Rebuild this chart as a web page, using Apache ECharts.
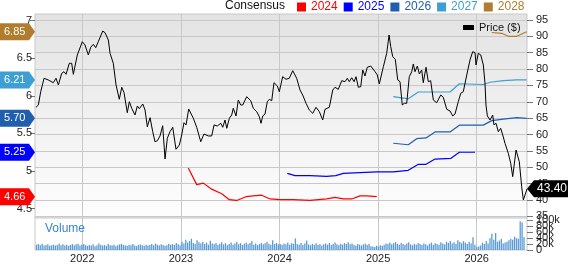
<!DOCTYPE html>
<html><head><meta charset="utf-8">
<script src="https://cdn.jsdelivr.net/npm/echarts@6/dist/echarts.min.js"></script>
<style>html,body{margin:0;padding:0;background:#fff}#c{width:568px;height:264px}</style>
</head><body><div id="c"></div>
<script>
// ---- tick labels ----
const yearTicks = [2022, 2023, 2024, 2025, 2026];
const priceTicks = [35, 40, 45, 50, 55, 60, 65, 70, 75, 80, 85, 90, 95];
const epsTicks = [4.5, 5, 5.5, 6, 6.5, 7];
const volumeTicks = [0, 20000, 40000, 60000, 80000, 100000];

// ---- price (decimal year, $) ----
const priceDates = [2021.530,2021.554,2021.578,2021.594,2021.612,2021.655,2021.706,2021.733,2021.757,2021.791,
2021.814,2021.835,2021.868,2021.892,2021.909,2021.926,2021.949,2022.000,2022.027,2022.061,
2022.085,2022.112,2022.136,2022.162,2022.180,2022.207,2022.230,2022.264,2022.281,2022.314,
2022.342,2022.375,2022.400,2022.423,2022.456,2022.477,2022.501,2022.534,2022.558,2022.578,
2022.613,2022.636,2022.659,2022.687,2022.714,2022.737,2022.761,2022.788,2022.815,2022.839,
2022.862,2022.889,2022.917,2022.950,2022.984,2023.008,2023.031,2023.052,2023.079,2023.126,
2023.160,2023.201,2023.234,2023.278,2023.312,2023.336,2023.369,2023.404,2023.424,2023.447,
2023.465,2023.491,2023.515,2023.531,2023.559,2023.582,2023.606,2023.627,2023.667,2023.708,
2023.734,2023.769,2023.795,2023.812,2023.830,2023.853,2023.876,2023.897,2023.921,2023.944,
2023.978,2023.998,2024.032,2024.066,2024.099,2024.134,2024.174,2024.208,2024.235,2024.269,
2024.302,2024.337,2024.370,2024.404,2024.438,2024.461,2024.505,2024.540,2024.563,2024.596,
2024.631,2024.664,2024.688,2024.708,2024.732,2024.756,2024.776,2024.799,2024.824,2024.844,
2024.867,2024.890,2024.925,2024.969,2024.992,2025.012,2025.053,2025.087,2025.111,2025.128,
2025.148,2025.174,2025.199,2025.222,2025.245,2025.266,2025.290,2025.316,2025.341,2025.357,
2025.374,2025.398,2025.418,2025.442,2025.458,2025.486,2025.509,2025.533,2025.560,2025.594,
2025.635,2025.661,2025.696,2025.729,2025.757,2025.780,2025.813,2025.838,2025.864,2025.899,
2025.932,2025.959,2025.983,2025.993,2026.016,2026.041,2026.067,2026.084,2026.094,2026.108,
2026.135,2026.162,2026.175,2026.196,2026.219,2026.243,2026.264,2026.287,2026.320,2026.345,
2026.365,2026.399,2026.432,2026.456,2026.473,2026.510];
const priceValues = [68.32,69.03,73.09,73.40,77.19,76.67,75.84,77.19,75.14,78.71,
79.20,78.41,81.77,81.77,78.41,78.71,84.31,88.37,87.36,84.31,
86.66,87.57,86.54,88.37,88.06,91.64,91.12,88.89,84.82,81.77,
75.14,70.77,74.44,72.79,66.67,70.04,68.02,65.97,68.72,67.90,
69.33,67.50,62.40,65.15,60.87,57.81,58.12,59.56,62.70,52.53,
58.85,60.87,62.21,55.49,56.81,59.86,63.62,62.92,67.81,64.96,
62.21,57.81,60.17,59.56,59.56,62.92,62.61,63.44,62.21,64.44,
61.91,64.96,65.97,68.02,65.67,70.56,69.03,69.03,71.56,70.34,
68.02,66.98,65.45,63.44,65.67,66.28,70.04,70.77,70.34,75.84,
74.83,73.09,77.67,76.88,77.19,79.51,77.19,73.61,72.08,69.55,
67.50,66.49,68.32,66.98,64.44,67.71,68.32,73.61,74.44,73.82,
76.45,76.15,77.19,76.15,77.37,76.15,77.67,74.44,74.62,79.72,
77.89,80.55,80.94,79.20,78.19,75.44,80.73,84.82,90.42,86.84,
83.79,82.99,76.67,76.15,69.03,69.55,69.55,77.67,79.20,81.56,
79.20,80.94,78.50,79.72,75.84,80.55,76.15,76.45,70.56,69.73,
72.08,71.38,67.71,67.19,65.67,66.28,70.04,72.60,73.09,78.19,
82.78,85.31,85.01,81.25,84.82,84.31,81.25,75.66,69.03,65.67,
64.44,65.97,62.92,63.44,60.87,61.91,59.86,57.32,54.27,51.21,
47.12,55.28,51.70,44.06,40.00,43.40];

// ---- consensus EPS by fiscal year ----
const eps2024Dates = [2023.075,2023.160,2023.227,2023.312,2023.414,2023.491,2023.566,2023.660,2023.734,2023.819,2023.904,2024.005,2024.140,2024.309,2024.479,2024.563,2024.647,2024.732,2024.816,2024.884,2024.986];
const eps2024 = [5.04,4.82,4.84,4.76,4.70,4.62,4.61,4.66,4.67,4.68,4.63,4.62,4.62,4.61,4.63,4.65,4.63,4.63,4.67,4.67,4.66];
const eps2025Dates = [2024.079,2024.157,2024.309,2024.479,2024.570,2024.647,2024.816,2024.986,2025.154,2025.306,2025.408,2025.486,2025.577,2025.739,2025.824,2025.983];
const eps2025 = [4.97,4.94,4.94,4.93,4.94,4.97,4.98,4.99,4.99,5.01,5.09,5.09,5.16,5.17,5.25,5.25];
const eps2026Dates = [2025.154,2025.306,2025.391,2025.486,2025.577,2025.729,2025.824,2026.067,2026.152,2026.270,2026.406,2026.507];
const eps2026 = [5.37,5.35,5.43,5.44,5.52,5.52,5.61,5.61,5.67,5.69,5.71,5.70];
const eps2027Dates = [2025.154,2025.306,2025.408,2025.729,2025.824,2026.067,2026.135,2026.270,2026.406,2026.507];
const eps2027 = [5.99,5.96,6.05,6.05,6.16,6.15,6.18,6.20,6.21,6.21];
const eps2028Dates = [2026.152,2026.253,2026.320,2026.406,2026.507];
const eps2028 = [6.84,6.83,6.79,6.79,6.85];

// ---- weekly volume (thousands) ----
const volumeStart = 2021.535;
const volumeK = [18,20,16,21,15,17,19,14,16,18,15,17,22,16,19,15,18,14,17,20,16,19,21,15,18,
20,16,14,17,15,19,13,16,22,18,15,17,14,20,16,15,18,13,16,19,21,17,15,14,18,16,20,15,13,17,19,16,14,18,15,17,20,16,22,18,15,19,17,14,16,21,18,20,17,24,19,16,
28,22,35,25,30,38,24,20,33,26,22,28,20,25,18,31,22,19,24,17,21,26,19,23,16,20,25,18,22,27,19,23,17,21,25,19,24,30,18,22,17,20,24,19,23,28,21,18,33,20,24,19,
20,17,22,19,25,18,23,21,39,20,18,24,17,22,32,19,16,21,18,23,17,20,15,19,22,18,24,17,20,25,19,16,21,18,23,20,26,19,22,17,14,20,18,15,19,22,17,21,13,12,10,14,
12,16,14,18,22,20,25,19,23,27,21,18,24,20,17,22,26,19,16,21,18,24,20,17,22,19,15,21,25,18,23,20,17,26,22,19,28,24,30,22,26,20,33,27,23,30,25,20,28,22,43,18,
10,12,15,25,20,30,22,40,55,35,57,28,32,38,22,25,28,33,38,35,45,40,38,97,93,43];

const seriesNames = ['2024', '2025', '2026', '2027', '2028'];
const seriesColors = ['#ff0000', '#0000ff', '#1f5fad', '#3d9fd3', '#b07c2e'];
const epsDates = [eps2024Dates, eps2025Dates, eps2026Dates, eps2027Dates, eps2028Dates];
const epsValues = [eps2024, eps2025, eps2026, eps2027, eps2028];
const lastPrice = priceValues[priceValues.length - 1];

const FONT = '"Liberation Sans", Arial, sans-serif';
const GRID = '#c8c8c8';
const pair = (xs, ys) => xs.map((x, i) => [x, ys[i]]);
const weekStep = 7 / 365.25;

const chart = echarts.init(document.getElementById('c'), null, {renderer: 'canvas'});

const epsSeries = seriesNames.map((n, k) => ({
  name: n, type: 'line', xAxisIndex: 0, yAxisIndex: 0,
  data: pair(epsDates[k], epsValues[k]), showSymbol: false, symbol: 'none',
  lineStyle: {color: seriesColors[k], width: 1.2}, itemStyle: {color: seriesColors[k]},
  z: 3
}));

const xCommon = {
  type: 'value', min: 2021.52, max: 2026.51,
  axisLine: {show: false},
  axisTick: {show: false, customValues: yearTicks},
  splitLine: {show: true, lineStyle: {color: GRID, width: 1}}
};
const labelBase = {fontSize: 11, color: '#222', margin: 3, fontFamily: FONT,
  hideOverlap: false, showMinLabel: true, showMaxLabel: true};

chart.setOption({
  animation: false,
  textStyle: {fontFamily: FONT},
  grid: [
    {left: 35, top: 14, width: 492, height: 204, show: true, borderColor: GRID, borderWidth: 1,
     backgroundColor: {type: 'linear', x: 0, y: 0, x2: 0, y2: 1,
       colorStops: [{offset: 0, color: '#e3e3e3'}, {offset: 1, color: '#fefefe'}]}},
    {left: 35, top: 218, width: 492, height: 35, show: true, borderColor: GRID, borderWidth: 1, backgroundColor: '#ffffff'}
  ],
  xAxis: [
    Object.assign({}, xCommon, {gridIndex: 0, axisLabel: {show: false, customValues: yearTicks}}),
    Object.assign({}, xCommon, {gridIndex: 1, axisLabel: Object.assign({}, labelBase, {show: true, customValues: yearTicks,
      formatter: v => String(Math.round(v))})})
  ],
  yAxis: [
    {type: 'value', gridIndex: 0, position: 'left', min: 4.377, max: 7.086,
     axisLine: {show: false},
     axisTick: {show: true, length: 5, customValues: epsTicks, lineStyle: {color: '#777'}},
     axisLabel: Object.assign({}, labelBase, {customValues: epsTicks}),
     splitLine: {show: false}},
    {type: 'value', gridIndex: 0, position: 'right', min: 34.5, max: 96.83,
     axisLine: {show: false},
     axisTick: {show: true, length: 6, customValues: priceTicks, lineStyle: {color: '#777'}},
     axisLabel: {show: false},
     splitLine: {show: true, lineStyle: {color: GRID, width: 1}}},
    {type: 'value', gridIndex: 1, position: 'right', min: 0, max: 108000,
     axisLine: {show: false},
     axisTick: {show: true, length: 6, customValues: volumeTicks, lineStyle: {color: '#777'}},
     axisLabel: {show: false},
     splitLine: {show: false}}
  ],
  legend: [
    {left: 297, top: 1, padding: 0, itemGap: 6, itemWidth: 9, itemHeight: 9, icon: 'rect',
     selectedMode: false,
     textStyle: {fontSize: 12, fontFamily: FONT},
     data: seriesNames.map((n, k) => ({name: n, textStyle: {color: seriesColors[k]}}))},
    {left: 463, top: 22, padding: 0, itemWidth: 11, itemHeight: 5, icon: 'rect', selectedMode: false,
     textStyle: {fontSize: 11, color: '#111', fontFamily: FONT},
     data: ['Price ($)']}
  ],
  series: [
    {name: 'Volume', type: 'bar', xAxisIndex: 1, yAxisIndex: 2, barWidth: 1.3,
     data: volumeK.map((v, i) => [volumeStart + i * weekStep, v * 1000]),
     itemStyle: {color: '#5b9bd5'}},
    ...epsSeries,
    {name: 'Price ($)', type: 'line', xAxisIndex: 0, yAxisIndex: 1,
     data: pair(priceDates, priceValues), showSymbol: false, symbol: 'none',
     lineStyle: {color: '#000', width: 1}, itemStyle: {color: '#000'}, z: 4}
  ]
});

// right-side tick labels and value tags, positioned through the chart's own scales
const g = [];
const tickText = (x, y, t) => ({type: 'text', x: x, y: y, z: 50,
  style: {text: t, font: '11px ' + FONT, fill: '#222', align: 'left', verticalAlign: 'middle'}});
priceTicks.forEach(v => g.push(tickText(536, chart.convertToPixel({yAxisIndex: 1}, v), String(v))));
volumeTicks.forEach(v => g.push(tickText(536, chart.convertToPixel({yAxisIndex: 2}, v),
  v === 0 ? '0' : (v / 1000) + 'k')));
g.push({type: 'text', x: 225, y: 6, z: 100,
  style: {text: 'Consensus', font: '12px ' + FONT, fill: '#111', align: 'left', verticalAlign: 'middle'}});
g.push({type: 'text', x: 45, y: 229, z: 100,
  style: {text: 'Volume', font: '12px ' + FONT, fill: '#3a86c8', align: 'left', verticalAlign: 'middle'}});
seriesNames.forEach((n, k) => {
  const v = epsValues[k][epsValues[k].length - 1];
  const y = chart.convertToPixel({yAxisIndex: 0}, v);
  g.push({type: 'polygon', z: 100,
    shape: {points: [[0, y - 8.5], [29, y - 8.5], [35, y], [29, y + 8.5], [0, y + 8.5]]},
    style: {fill: seriesColors[k]}});
  g.push({type: 'text', x: 4, y: y, z: 101,
    style: {text: v.toFixed(2), font: '11px ' + FONT, fill: '#fff', align: 'left', verticalAlign: 'middle'}});
});
const py = chart.convertToPixel({yAxisIndex: 1}, lastPrice);
g.push({type: 'polygon', z: 100,
  shape: {points: [[527, py], [534, py - 8.5], [568, py - 8.5], [568, py + 8.5], [534, py + 8.5]]},
  style: {fill: '#000'}});
g.push({type: 'text', x: 537, y: py, z: 101,
  style: {text: lastPrice.toFixed(2), font: '12px ' + FONT, fill: '#fff', align: 'left', verticalAlign: 'middle'}});
chart.setOption({graphic: g});
</script></body></html>
